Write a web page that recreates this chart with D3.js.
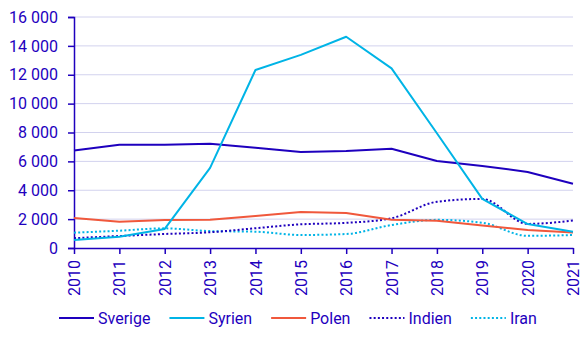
<!DOCTYPE html>
<html>
<head>
<meta charset="utf-8">
<script src="https://cdn.jsdelivr.net/npm/d3@7"></script>
<style>
  html, body { margin: 0; padding: 0; background: #fff; }
  svg { display: block; font-family: Roboto, "Noto Sans", sans-serif; }
</style>
</head>
<body>
<svg id="chart" width="588" height="342"></svg>
<script>
// Years on the x axis
const years = [2010, 2011, 2012, 2013, 2014, 2015, 2016, 2017, 2018, 2019, 2020, 2021];

// Values per country of birth
const sverige = [6750, 7150, 7150, 7220, 6950, 6650, 6720, 6870, 6020, 5680, 5270, 4450];
const syrien  = [550, 780, 1320, 5550, 12330, 13380, 14630, 12440, 7950, 3400, 1660, 1130];
const polen   = [2070, 1820, 1940, 1950, 2220, 2500, 2430, 1950, 1880, 1560, 1250, 1080];
const indien  = [680, 830, 970, 1090, 1370, 1640, 1740, 2060, 3200, 3400, 1670, 1900];
const iran    = [1060, 1200, 1360, 1170, 1130, 900, 970, 1590, 1950, 1750, 840, 900];

const yTicks = [0, 2000, 4000, 6000, 8000, 10000, 12000, 14000, 16000];

const seriesNames  = ["Sverige", "Syrien", "Polen", "Indien", "Iran"];
const seriesValues = [sverige, syrien, polen, indien, iran];
const seriesColors = ["#1e00be", "#00b4e6", "#f0583c", "#1e00be", "#00b4e6"];
const seriesDotted = [false, false, false, true, true];

const ink = "#1e00be";
const svg = d3.select("#chart");

const margin = { left: 74, right: 15, top: 17, bottom: 94 };
const W = 588, H = 342;

const x = d3.scalePoint().domain(years).range([margin.left, W - margin.right]);
const y = d3.scaleLinear().domain([0, 16000]).range([H - margin.bottom, margin.top]);

const loc = d3.formatLocale({ decimal: ",", thousands: "\u00a0", grouping: [3], currency: ["", ""] });
const fmt = loc.format(",");

// Horizontal gridlines
svg.append("g")
  .selectAll("line")
  .data(yTicks.filter(d => d > 0))
  .join("line")
  .attr("x1", margin.left).attr("x2", W - margin.right)
  .attr("y1", d => y(d)).attr("y2", d => y(d))
  .attr("stroke", "#d2d2ee").attr("stroke-width", 1);

// Y axis
const yAxis = svg.append("g")
  .attr("transform", `translate(${margin.left},0)`)
  .call(d3.axisLeft(y).tickValues(yTicks).tickFormat(fmt).tickSize(6).tickPadding(10));
yAxis.select(".domain").attr("stroke", ink).attr("stroke-width", 1.5);
yAxis.selectAll(".tick line").attr("stroke", ink).attr("stroke-width", 1.5);
yAxis.selectAll(".tick text").attr("fill", ink).attr("font-size", 16)
  .attr("font-family", "Roboto, sans-serif");

// X axis
const xAxis = svg.append("g")
  .attr("transform", `translate(0,${y(0)})`)
  .call(d3.axisBottom(x).tickSize(6).tickSizeOuter(0));
xAxis.select(".domain").attr("stroke", ink).attr("stroke-width", 1.5);
xAxis.selectAll(".tick line").attr("stroke", ink).attr("stroke-width", 1.5);
xAxis.selectAll(".tick text")
  .attr("fill", ink).attr("font-size", 16).attr("font-family", "Roboto, sans-serif")
  .attr("transform", "rotate(-90)")
  .attr("text-anchor", "end")
  .attr("x", -12).attr("y", 0).attr("dy", "0.35em");

// Series lines
const lineSolid = d3.line().x((d, i) => x(years[i])).y(d => y(d));
const lineSmooth = d3.line().x((d, i) => x(years[i])).y(d => y(d)).curve(d3.curveMonotoneX);

const order = [4, 3, 2, 0, 1];
order.forEach(k => {
  svg.append("path")
    .datum(seriesValues[k])
    .attr("d", seriesDotted[k] ? lineSmooth : lineSolid)
    .attr("fill", "none")
    .attr("stroke", seriesColors[k])
    .attr("stroke-width", 2)
    .attr("stroke-linejoin", "round")
    .attr("stroke-dasharray", seriesDotted[k] ? "2,2.2" : null);
});

// Legend
const legendY = 318;
const legend = svg.append("g");
let lx = 59;
seriesNames.forEach((name, k) => {
  const g = legend.append("g").attr("transform", `translate(${lx},${legendY})`);
  g.append("line").attr("x1", 0).attr("x2", 35).attr("y1", 0).attr("y2", 0)
    .attr("stroke", seriesColors[k]).attr("stroke-width", 2)
    .attr("stroke-dasharray", seriesDotted[k] ? "2,2.2" : null);
  const t = g.append("text").attr("x", 39).attr("y", 0).attr("dy", "0.35em")
    .attr("fill", ink).attr("font-size", 16).attr("font-family", "Roboto, sans-serif")
    .text(name);
  const w = t.node().getComputedTextLength();
  lx += 39 + w + 19;
});
</script>
</body>
</html>
